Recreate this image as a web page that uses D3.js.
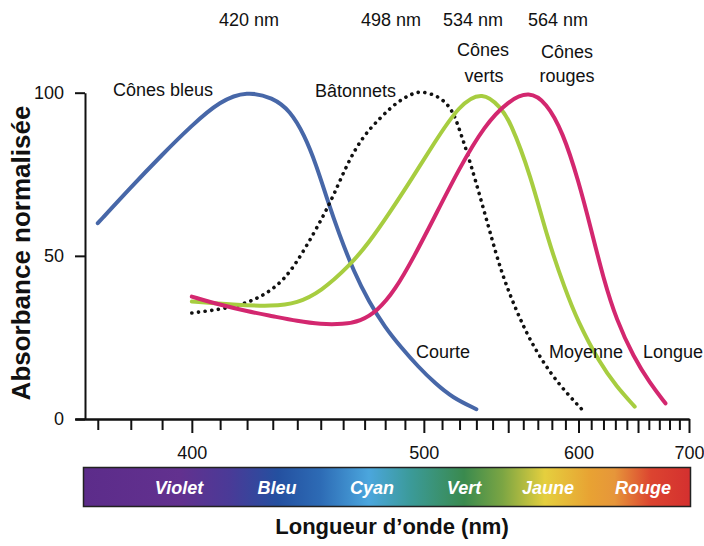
<!DOCTYPE html>
<html>
<head>
<meta charset="utf-8">
<script src="https://cdn.jsdelivr.net/npm/d3@7"></script>
<style>
  body { margin: 0; background: #fff; }
  text { font-family: "Liberation Sans", Arial, sans-serif; }
</style>
</head>
<body>
<div id="wrapper"></div>
<script>
// absorbance curves (wavelength in nm, absorbance 0-100)
const nmBlue  = [370, 380, 390, 400, 410, 420, 430, 437, 443, 448, 453, 458, 465, 472, 480, 488, 497, 506, 516, 530]
const absBlue = [60, 71, 81, 90, 97.5, 100.5, 98.5, 94.5, 87, 78, 67, 57, 45, 36, 28, 22, 16, 11, 6.5, 3]

const nmRod  = [400, 414, 425, 435, 443, 451, 456, 462, 469, 478, 486, 494, 499, 509, 516, 520, 526, 538, 546, 558, 567, 579, 591, 603]
const absRod = [32.5, 34, 37, 42.6, 51.8, 62, 69, 78.4, 86.5, 92.6, 97.2, 99.8, 100.5, 98.8, 94.7, 88.6, 79.4, 58, 44, 30.3, 22.2, 14, 7.9, 2.8]

const nmGreen  = [400, 415, 430, 440, 450, 463, 472, 482, 494, 505, 520, 534, 545, 551, 565, 577, 590, 599, 617, 631, 647]
const absGreen = [36, 35, 34.5, 35.5, 39, 47, 54, 63, 74, 84, 96.5, 100.5, 95.5, 91.6, 74.8, 55, 39.5, 30.3, 17, 10, 3.8]

const nmRed  = [400, 410, 420, 430, 440, 450, 460, 468, 476, 485, 495, 505, 520, 535, 550, 564, 576, 588, 600, 610, 620, 631, 646, 661, 676]
const absRed = [37.5, 35, 33, 31.5, 30, 29, 29, 30, 33, 39.5, 50, 61, 77, 90, 97.5, 100.5, 97, 88, 73, 58, 43, 30.3, 19, 11, 4.8]

// axes
const xMajorTicks = [400, 500, 550, 600, 650, 700]
const xTickLabels = [400, 500, 600, 700]
const xMinorTicks = [370, 380, 390, 410, 420, 430, 440, 450, 460, 470, 480, 490,
  510, 520, 530, 540, 560, 570, 580, 590, 610, 620, 630, 640, 660, 670, 680, 690]
const yTicks = [0, 50, 100]

// spectrum band names
const bandNames = ["Violet", "Bleu", "Cyan", "Vert", "Jaune", "Rouge"]

const peakLabels = ["420 nm", "498 nm", "534 nm", "564 nm"]

const zip = (xs, ys) => xs.map((d, i) => ({ nm: d, v: ys[i] }))

const series = [
  { data: zip(nmBlue, absBlue), color: "#4767a8", dash: null },
  { data: zip(nmRod, absRod), color: "#111", dash: "0.1 6.6" },
  { data: zip(nmGreen, absGreen), color: "#a7cd40", dash: null },
  { data: zip(nmRed, absRed), color: "#d3276f", dash: null },
]

const width = 704
const height = 546

const svg = d3.select("#wrapper")
  .append("svg")
  .attr("width", width)
  .attr("height", height)

// the wavelength axis is drawn in wavenumber (1/lambda) -> pow scale, exponent -1
const xScale = d3.scalePow()
  .exponent(-1)
  .domain([363.4, 700])
  .range([75, 689])

const yScale = d3.scaleLinear()
  .domain([0, 100])
  .range([419, 92.7])

const font = "'Liberation Sans', Arial, sans-serif"

// curves
const lineGen = d3.line()
  .x(d => xScale(d.nm))
  .y(d => yScale(d.v))
  .curve(d3.curveBasis)

svg.append("g")
  .selectAll("path")
  .data(series)
  .join("path")
  .attr("d", d => lineGen(d.data))
  .attr("fill", "none")
  .attr("stroke", d => d.color)
  .attr("stroke-width", d => d.dash ? 3.6 : 4)
  .attr("stroke-linecap", "round")
  .attr("stroke-dasharray", d => d.dash)

// x axis : minor then major ticks
const xMinor = svg.append("g")
  .attr("transform", "translate(0,419)")
  .call(d3.axisBottom(xScale).tickValues(xMinorTicks).tickSize(11).tickSizeOuter(0).tickFormat(""))

const xMajor = svg.append("g")
  .attr("transform", "translate(0,419)")
  .call(d3.axisBottom(xScale)
    .tickValues(xMajorTicks)
    .tickSize(14)
    .tickSizeOuter(0)
    .tickFormat(d => xTickLabels.includes(d) ? d : ""))

xMajor.selectAll("text")
  .attr("y", 40)
  .attr("dy", null)
  .attr("font-size", "18px")
  .attr("font-family", font)
  .attr("fill", "#111")

// y axis
const yAxis = svg.append("g")
  .attr("transform", "translate(85,0)")
  .call(d3.axisLeft(yScale).tickValues(yTicks).tickSize(10).tickSizeOuter(0).tickPadding(11))

yAxis.selectAll("text")
  .attr("font-size", "18px")
  .attr("font-family", font)
  .attr("fill", "#111")

svg.selectAll(".domain, .tick line")
  .attr("stroke", "#111")
  .attr("stroke-width", 2)

// axis titles
svg.append("text")
  .attr("transform", "translate(30,253) rotate(-90)")
  .attr("text-anchor", "middle")
  .attr("font-size", "26px")
  .attr("font-weight", "bold")
  .attr("fill", "#111")
  .text("Absorbance normalisée")

svg.append("text")
  .attr("x", 392)
  .attr("y", 534)
  .attr("text-anchor", "middle")
  .attr("font-size", "22px")
  .attr("font-weight", "bold")
  .attr("fill", "#111")
  .text("Longueur d\u2019onde (nm)")

// spectrum bar
const defs = svg.append("defs")
const grad = defs.append("linearGradient")
  .attr("id", "spectrum")
  .attr("x1", "0%").attr("x2", "100%")

const stops = [
  [0, "#5c2c8a"], [0.16, "#62318f"], [0.24, "#4a3a97"], [0.32, "#2450a0"],
  [0.39, "#2d6bb5"], [0.47, "#4ba6dd"], [0.54, "#3b9a98"], [0.627, "#3a8a4e"],
  [0.69, "#7ba543"], [0.76, "#e5cf3e"], [0.835, "#e8a233"], [0.875, "#e6963a"],
  [0.935, "#dc4430"], [1, "#d4302f"],
]
grad.selectAll("stop")
  .data(stops)
  .join("stop")
  .attr("offset", d => d[0])
  .attr("stop-color", d => d[1])

svg.append("rect")
  .attr("x", 83.5)
  .attr("y", 467.5)
  .attr("width", 607)
  .attr("height", 39)
  .attr("fill", "url(#spectrum)")
  .attr("stroke", "#222")
  .attr("stroke-width", 1.5)

const bandX = [179, 277, 372, 464, 548, 643]
svg.append("g")
  .selectAll("text")
  .data(bandNames)
  .join("text")
  .attr("x", (d, i) => bandX[i])
  .attr("y", 493.5)
  .attr("text-anchor", "middle")
  .attr("font-size", "18px")
  .attr("font-weight", "bold")
  .attr("font-style", "italic")
  .attr("fill", "#fff")
  .text(d => d)

// annotations
const peakX = [249, 391, 473, 558]
svg.append("g")
  .selectAll("text")
  .data(peakLabels)
  .join("text")
  .attr("x", (d, i) => peakX[i])
  .attr("y", 26)
  .attr("text-anchor", "middle")
  .attr("font-size", "18px")
  .attr("fill", "#111")
  .text(d => d)

const notes = [
  { t: "Cônes", x: 483, y: 56, a: "middle" },
  { t: "verts", x: 484, y: 82, a: "middle" },
  { t: "Cônes", x: 567, y: 58, a: "middle" },
  { t: "rouges", x: 567, y: 82, a: "middle" },
  { t: "Cônes bleus", x: 113, y: 96, a: "start" },
  { t: "Bâtonnets", x: 315, y: 96.5, a: "start" },
  { t: "Courte", x: 416, y: 358, a: "start" },
  { t: "Moyenne", x: 549, y: 358, a: "start" },
  { t: "Longue", x: 643, y: 358, a: "start" },
]
svg.append("g")
  .selectAll("text")
  .data(notes)
  .join("text")
  .attr("x", d => d.x)
  .attr("y", d => d.y)
  .attr("text-anchor", d => d.a)
  .attr("font-size", "18px")
  .attr("fill", "#111")
  .text(d => d.t)
</script>
</body>
</html>
